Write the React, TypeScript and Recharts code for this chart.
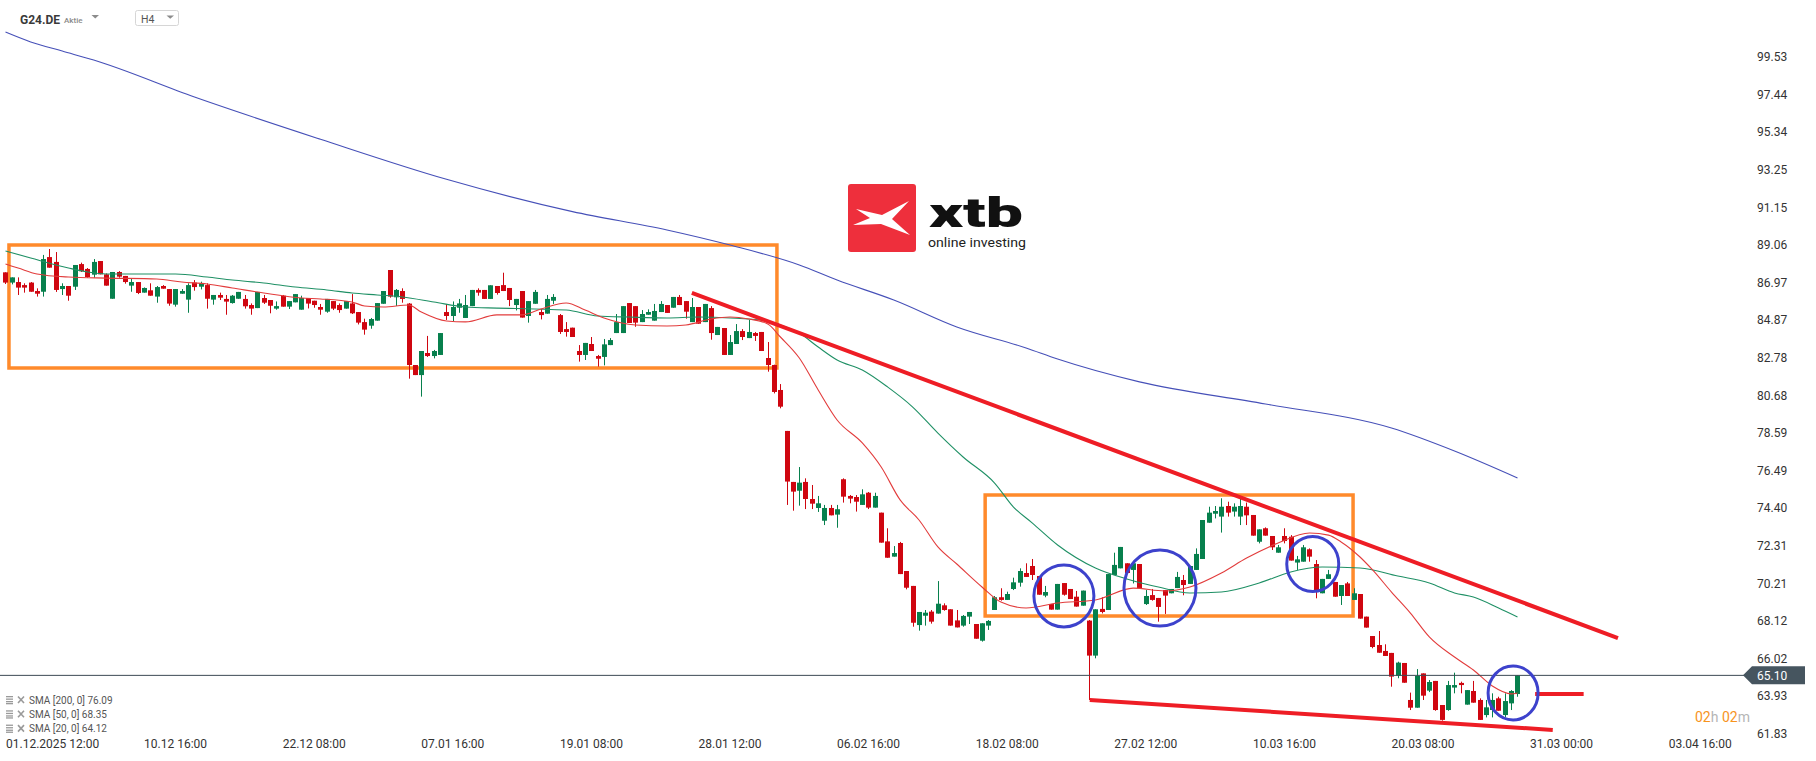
import React from 'react';
import {
  ComposedChart, Bar, Line, XAxis, YAxis, ReferenceLine, ReferenceArea, ReferenceDot,
} from 'recharts';

const W = 1816;
const H = 761;
const RED = '#cf0610';
const GREEN = '#07804d';
const ORANGE = '#ff8a2b';
const CIRCLE = '#3d42cc';
const TREND = '#ee1d25';
const FONT = 'Roboto, "Open Sans", sans-serif';

// ---- candle values (H4) ----
const opens = [
  87.54, 86.97, 87.0, 86.83, 86.97, 86.5, 86.46, 88.39, 88.12, 86.61,
  86.78, 86.74, 88.0, 87.73, 87.41, 88.17, 87.43, 86.07, 87.56, 87.34,
  86.8, 87.0, 86.41, 86.54, 86.19, 86.78, 86.61, 85.74, 86.35, 86.02,
  86.97, 86.74, 86.83, 86.02, 86.28, 86.06, 85.83, 86.07, 86.06, 85.72,
  85.55, 86.11, 86.0, 85.52, 86.24, 85.63, 85.87, 85.46, 86.11, 85.96,
  85.61, 85.35, 85.94, 85.72, 85.52, 85.81, 85.33, 84.77, 84.57, 84.85,
  85.79, 87.67, 86.15, 86.5, 85.8, 82.38, 81.82, 83.05, 82.88, 82.94,
  85.33, 85.11, 85.57, 85.0, 85.66, 86.56, 86.56, 86.06, 86.78, 86.83,
  86.67, 85.72, 86.5, 85.11, 85.79, 85.33, 85.24, 85.96, 85.16, 84.38,
  84.46, 83.16, 82.94, 83.55, 82.88, 82.83, 83.49, 84.16, 84.16, 85.83,
  85.66, 84.77, 85.18, 84.85, 85.33, 85.72, 85.57, 86.17, 85.94, 84.77,
  85.61, 84.77, 85.55, 84.05, 84.44, 82.94, 83.55, 84.27, 83.88, 84.16,
  84.22, 82.77, 82.38, 80.99, 78.71, 75.87, 75.38, 75.87, 74.92, 74.42,
  73.71, 74.42, 74.05, 76.02, 75.09, 75.03, 74.59, 75.27, 74.44, 74.16,
  72.56, 71.71, 72.47, 70.91, 70.08, 67.9, 68.42, 68.65, 68.54, 69.0,
  68.78, 68.16, 67.87, 68.37, 67.96, 67.03, 67.87, 68.74, 69.45, 69.3,
  69.91, 70.26, 70.8, 71.19, 70.63, 69.54, 69.07, 68.76, 70.24, 69.91,
  69.48, 68.98, 68.15, 66.2, 68.8, 68.74, 70.69, 71.06, 71.34, 70.97,
  71.3, 69.07, 69.57, 69.41, 69.85, 69.67, 69.96, 70.41, 70.19, 70.97,
  71.58, 73.6, 74.1, 73.94, 74.53, 74.22, 73.94, 74.49, 74.03, 72.54,
  73.29, 72.86, 71.93, 72.86, 72.82, 71.38, 71.43, 72.12, 71.3, 69.67,
  70.47, 70.3, 69.52, 70.22, 69.3, 69.63, 68.37, 67.29, 66.79, 66.46,
  66.35, 65.08, 65.79, 63.73, 63.3, 65.21, 64.25, 64.79, 63.45, 63.17,
  64.42, 64.68, 63.47, 64.23, 63.73, 62.89, 63.17, 63.82, 62.89, 63.54, 64.06,
];
const highs = [
  87.54, 87.26, 87.26, 86.93, 87.0, 86.65, 88.51, 88.84, 88.67, 86.93,
  86.78, 87.95, 88.08, 87.78, 88.28, 88.17, 87.48, 87.56, 87.61, 87.34,
  87.21, 87.0, 86.7, 86.93, 86.78, 86.83, 86.61, 86.61, 86.61, 86.93,
  87.11, 87.02, 86.93, 86.28, 86.41, 86.28, 86.28, 86.45, 86.28, 85.81,
  86.45, 86.28, 86.0, 85.92, 86.28, 85.94, 86.33, 86.24, 86.11, 85.96,
  85.78, 86.06, 85.94, 85.81, 85.94, 86.33, 85.33, 84.96, 85.0, 85.83,
  86.5, 87.67, 86.61, 86.65, 85.83, 82.38, 83.16, 84.0, 83.22, 84.16,
  85.78, 85.92, 86.06, 86.28, 86.56, 86.65, 86.56, 86.82, 86.78, 87.52,
  86.67, 86.06, 86.5, 85.94, 86.56, 85.5, 86.28, 86.33, 85.22, 84.77,
  84.46, 83.49, 83.61, 83.94, 82.94, 83.83, 83.88, 85.22, 85.66, 85.83,
  85.66, 85.44, 85.48, 85.78, 85.94, 85.72, 86.17, 86.28, 85.94, 86.11,
  85.61, 85.78, 85.66, 84.5, 84.44, 84.05, 84.66, 84.38, 84.89, 84.22,
  84.22, 83.66, 82.4, 81.32, 78.71, 75.87, 76.7, 76.07, 75.7, 75.09,
  74.59, 74.59, 74.59, 76.07, 75.14, 75.14, 75.46, 75.31, 75.27, 74.16,
  73.29, 72.3, 72.53, 70.91, 70.08, 68.63, 68.74, 68.74, 70.35, 69.11,
  68.78, 68.74, 68.46, 68.63, 67.96, 68.0, 68.18, 69.52, 69.95, 69.76,
  70.54, 71.06, 71.34, 71.58, 70.63, 70.08, 69.07, 70.19, 70.24, 69.91,
  69.8, 69.82, 68.18, 68.78, 69.45, 70.74, 71.93, 72.25, 71.34, 71.34,
  71.3, 69.85, 69.91, 69.41, 69.85, 69.91, 70.86, 70.69, 71.19, 72.17,
  73.75, 74.49, 74.53, 74.96, 74.77, 74.68, 74.96, 74.72, 74.03, 73.23,
  73.34, 72.86, 72.36, 73.29, 72.91, 71.75, 72.36, 72.17, 71.52, 70.47,
  70.97, 70.3, 70.13, 70.3, 69.95, 69.63, 68.37, 67.29, 67.57, 66.83,
  66.35, 65.86, 65.79, 64.14, 65.45, 65.21, 64.84, 64.79, 63.45, 64.79,
  65.25, 64.75, 64.28, 64.79, 63.82, 63.73, 64.1, 63.91, 64.1, 64.28, 65.1,
];
const lows = [
  86.89, 86.87, 86.28, 86.41, 86.46, 86.19, 86.19, 87.8, 86.45, 86.28,
  85.96, 86.56, 87.56, 87.24, 87.24, 87.43, 86.8, 86.07, 87.24, 86.91,
  86.46, 86.33, 86.41, 86.24, 85.85, 86.63, 85.68, 85.63, 86.35, 85.29,
  86.52, 86.59, 85.52, 85.74, 86.0, 85.18, 85.8, 86.07, 85.52, 85.18,
  85.55, 85.78, 85.26, 85.46, 85.63, 85.5, 85.87, 85.46, 85.53, 85.57,
  85.18, 85.29, 85.44, 85.29, 85.52, 85.22, 84.64, 84.07, 84.4, 84.85,
  85.79, 86.13, 85.67, 85.85, 81.62, 81.82, 80.62, 82.83, 82.75, 82.94,
  84.89, 84.83, 85.29, 85.0, 85.66, 86.24, 86.06, 86.06, 86.3, 86.5,
  85.66, 85.42, 85.02, 84.74, 85.79, 84.92, 85.24, 85.78, 84.11, 83.96,
  83.94, 82.57, 82.66, 83.16, 82.29, 82.36, 83.49, 84.16, 84.16, 84.72,
  84.51, 84.77, 85.18, 84.85, 85.33, 85.28, 85.57, 85.72, 84.96, 84.77,
  84.68, 84.77, 83.79, 84.05, 82.94, 82.94, 83.55, 83.77, 83.88, 83.72,
  83.16, 82.01, 80.8, 79.97, 74.59, 74.27, 74.55, 74.36, 74.36, 74.2,
  73.47, 74.01, 73.32, 74.72, 74.68, 74.22, 74.59, 74.36, 74.44, 72.49,
  71.65, 71.71, 70.74, 69.89, 67.81, 67.59, 67.87, 67.98, 68.54, 68.7,
  67.87, 67.77, 67.81, 67.96, 67.14, 66.98, 67.63, 68.74, 69.26, 69.3,
  69.85, 70.04, 70.58, 70.41, 69.59, 69.45, 68.76, 68.76, 69.54, 69.35,
  68.93, 68.98, 63.73, 66.05, 68.55, 68.74, 70.69, 71.06, 70.8, 70.22,
  69.96, 69.02, 69.26, 68.09, 68.52, 69.67, 69.96, 69.56, 70.19, 70.97,
  71.58, 73.6, 73.84, 73.05, 73.94, 73.94, 73.47, 73.47, 72.88, 72.45,
  72.88, 72.08, 71.93, 72.45, 71.49, 70.97, 71.43, 71.43, 69.39, 69.67,
  70.47, 69.48, 69.02, 69.52, 69.3, 68.26, 67.76, 66.61, 66.36, 66.18,
  64.47, 64.94, 64.69, 63.17, 63.3, 63.73, 64.17, 63.13, 62.58, 63.13,
  64.1, 64.1, 63.47, 63.58, 62.62, 62.76, 62.76, 63.13, 62.76, 63.17, 63.91,
];
const closes = [
  86.97, 87.26, 86.69, 86.69, 86.46, 86.35, 88.28, 87.8, 86.56, 86.78,
  86.24, 87.95, 87.6, 87.28, 88.12, 87.43, 86.8, 87.56, 87.3, 87.0,
  87.0, 86.39, 86.67, 86.24, 86.72, 86.63, 85.8, 86.61, 86.5, 86.83,
  86.72, 86.93, 86.07, 86.28, 86.13, 85.91, 86.24, 86.45, 85.65, 85.52,
  86.45, 85.85, 85.68, 85.66, 85.63, 85.94, 86.33, 86.11, 85.8, 85.72,
  85.46, 86.06, 85.52, 85.44, 85.94, 85.26, 84.74, 84.35, 84.94, 85.83,
  86.5, 86.19, 86.56, 86.06, 82.38, 81.82, 83.16, 82.88, 83.16, 84.16,
  85.11, 85.61, 85.81, 85.72, 86.56, 86.41, 86.06, 86.82, 86.39, 86.5,
  86.0, 86.06, 85.02, 85.94, 86.45, 85.16, 86.06, 86.17, 84.22, 84.22,
  83.94, 82.94, 83.61, 83.16, 82.73, 83.53, 83.77, 84.77, 85.66, 84.72,
  84.74, 85.22, 85.33, 85.39, 85.78, 85.28, 86.17, 85.72, 85.35, 85.61,
  84.68, 85.78, 84.16, 84.5, 82.94, 83.66, 84.27, 83.94, 84.22, 84.0,
  83.16, 82.38, 80.88, 80.06, 75.89, 75.33, 75.83, 74.92, 74.66, 74.68,
  74.42, 74.01, 74.35, 75.05, 74.94, 74.77, 75.18, 74.44, 75.09, 72.49,
  71.65, 71.91, 70.74, 69.98, 68.03, 68.63, 68.59, 68.09, 69.09, 68.74,
  67.87, 67.77, 68.41, 68.63, 67.14, 68.0, 68.13, 69.45, 69.3, 69.63,
  70.28, 70.91, 70.58, 70.69, 69.59, 69.74, 68.76, 70.19, 69.59, 69.35,
  68.93, 69.82, 66.2, 68.78, 68.63, 70.74, 71.25, 72.25, 70.8, 71.34,
  69.96, 69.52, 69.3, 68.91, 69.54, 69.91, 70.58, 70.13, 71.19, 71.86,
  73.75, 74.16, 74.25, 74.49, 74.16, 74.49, 74.53, 74.01, 72.88, 73.23,
  72.88, 72.23, 72.23, 72.58, 71.49, 71.56, 72.23, 71.71, 69.82, 70.47,
  70.73, 69.48, 70.13, 69.52, 69.67, 68.26, 67.76, 66.68, 66.36, 66.18,
  65.03, 65.81, 64.69, 63.3, 65.07, 63.97, 64.73, 63.17, 62.62, 64.56,
  64.56, 64.56, 64.28, 63.58, 62.62, 63.32, 63.73, 63.13, 63.67, 64.23, 65.1,
];

// ---- moving averages (read at candle indices) ----
const sma200Idx = [0, 4, 9, 14, 30, 50, 70, 90, 105, 115, 126, 132, 141, 151, 162, 167, 180, 200, 220, 230, 240];
const sma200Val = [100.92, 100.37, 99.86, 99.36, 97.3, 94.95, 92.72, 90.92, 89.9, 89.06, 87.95, 87.11, 86.0, 84.5, 83.33, 82.71, 81.44, 80.21, 78.87, 77.59, 76.09];

const sma50Idx = [0, 4, 10, 13, 16, 22, 27, 32, 36, 41, 46, 51, 55, 59, 63, 68, 73, 78, 84, 89, 94, 99, 105, 110, 115, 121, 123, 126, 129, 132, 136, 140, 144, 148, 152, 157, 160, 163, 167, 173, 178, 183, 188, 193, 199, 204, 209, 215, 221, 226, 230, 233, 237, 240];
const sma50Val = [88.73, 88.34, 87.78, 87.56, 87.45, 87.45, 87.45, 87.28, 87.11, 86.95, 86.72, 86.56, 86.39, 86.28, 86.17, 85.89, 85.61, 85.55, 85.5, 85.44, 85.11, 85.05, 85.0, 85.05, 85.0, 84.83, 84.61, 84.16, 83.38, 82.66, 82.1, 81.16, 80.04, 78.59, 77.26, 75.81, 74.47, 73.58, 72.36, 71.08, 70.47, 70.02, 69.69, 69.74, 70.24, 70.86, 71.13, 71.08, 70.63, 70.24, 69.69, 69.46, 68.85, 68.35];

const sma20Idx = [0, 2, 5, 10, 16, 24, 28, 32, 36, 41, 47, 50, 55, 57, 60, 64, 66, 70, 73, 78, 82, 85, 89, 92, 95, 100, 105, 108, 112, 115, 118, 121, 123, 126, 129, 132, 136, 139, 142, 145, 148, 151, 155, 158, 162, 167, 173, 179, 184, 188, 193, 197, 202, 207, 210, 212, 215, 217, 220, 223, 226, 230, 233, 236, 239, 240];
const sma20Val = [88.0, 87.78, 87.45, 87.28, 87.22, 87.17, 87.0, 86.89, 86.67, 86.39, 86.11, 86.06, 85.89, 85.67, 85.61, 85.72, 85.33, 84.83, 84.78, 85.17, 85.17, 85.5, 85.83, 85.44, 85.0, 84.61, 84.55, 84.61, 84.94, 85.05, 84.94, 84.66, 83.94, 82.77, 80.99, 79.32, 78.04, 76.7, 74.87, 73.75, 72.25, 71.3, 70.02, 69.18, 68.85, 69.13, 69.3, 69.96, 69.8, 70.02, 70.8, 71.63, 72.47, 73.03, 72.91, 72.53, 71.69, 70.97, 69.74, 68.57, 67.24, 66.12, 65.4, 64.51, 64.07, 64.12];

// ---- axes ----
const yTicks = [99.53, 97.44, 95.34, 93.25, 91.15, 89.06, 86.97, 84.87, 82.78, 80.68, 78.59, 76.49, 74.4, 72.31, 70.21, 68.12, 66.02, 63.93, 61.83];
const xTickIdx = [5, 27, 49, 71, 93, 115, 137, 159, 181, 203, 225, 247, 269];
const xTickLabels = ['01.12.2025 12:00', '10.12 16:00', '22.12 08:00', '07.01 16:00', '19.01 08:00', '28.01 12:00', '06.02 16:00', '18.02 08:00', '27.02 12:00', '10.03 16:00', '20.03 08:00', '31.03 00:00', '03.04 16:00'];

// ---- annotations ----
const boxes = [
  { x1: 0.55, x2: 122.45, y1: 82.21, y2: 89.06 },
  { x1: 155.5, x2: 213.9, y1: 68.41, y2: 75.14 },
];
const circles = [
  { x: 168.0, y: 69.52, rx: 30, ry: 31 },
  { x: 183.25, y: 69.96, rx: 36, ry: 38 },
  { x: 207.5, y: 71.3, rx: 26, ry: 27.5 },
  { x: 239.3, y: 64.12, rx: 25, ry: 27 },
];
const upperTrend = [{ x: 108.95, y: 86.39 }, { x: 255.95, y: 67.18 }];
const lowerTrend = [{ x: 172.1, y: 63.73 }, { x: 245.6, y: 62.06 }];
const shortLevel = [{ x: 242.8, y: 64.06 }, { x: 250.5, y: 64.06 }];
const smaLegend = [
  { name: 'SMA [200, 0]', value: 76.09 },
  { name: 'SMA [50, 0]', value: 68.35 },
  { name: 'SMA [20, 0]', value: 64.12 },
];

const X_MIN = -5.5 / 6.3;
const X_MAX = (1745 - 5.5) / 6.3;
const Y_MAX = 102.704;
const Y_MIN = 61.501;

const candles = opens.map((o, i) => ({
  i, open: o, high: highs[i], low: lows[i], close: closes[i], range: [lows[i], highs[i]],
}));
const toPts = (idx: number[], val: number[]) => idx.map((i, k) => ({ i, v: val[k] }));
const sma200Data = toPts(sma200Idx, sma200Val);
const sma50Data = toPts(sma50Idx, sma50Val);
const sma20Data = toPts(sma20Idx, sma20Val);
const lastPrice = closes[closes.length - 1];

const CandleShape = (props: any) => {
  const { x, y, width, height, payload } = props;
  if (!payload || x == null || y == null) return null;
  const { open, close, high, low } = payload;
  const top = Math.min(y, y + height);
  const h = Math.abs(height);
  const span = high - low;
  const k = span > 0 ? h / span : 0;
  const py = (v: number) => top + (high - v) * k;
  const cx = Math.floor(x + width / 2);
  const up = close >= open;
  const color = up ? GREEN : RED;
  const bTop = py(Math.max(open, close));
  const bBot = py(Math.min(open, close));
  const bh = Math.max(1, bBot - bTop);
  return (
    <g>
      <rect x={cx} y={top} width={1} height={Math.max(1, h)} fill={color} />
      <rect x={cx - 2} y={bTop} width={5} height={bh} fill={color} />
    </g>
  );
};

const XTick = (props: any) => {
  const { x, payload } = props;
  const idx = xTickIdx.indexOf(payload.value);
  const label = idx >= 0 ? xTickLabels[idx] : '';
  const first = idx === 0;
  return (
    <text x={first ? 6 : x} y={748} textAnchor={first ? 'start' : 'middle'} fontSize={12} fill="#333" fontFamily={FONT}>
      {label}
    </text>
  );
};

const YTick = (props: any) => {
  const { y, payload } = props;
  return (
    <text x={1757} y={y + 4} fontSize={12} fill="#333" fontFamily={FONT}>
      {Number(payload.value).toFixed(2)}
    </text>
  );
};

const PriceTag = (props: any) => {
  const vb = props.viewBox || {};
  const x = (vb.x ?? 0) + (vb.width ?? 0) - 2;
  const y = vb.y ?? 0;
  return (
    <g>
      <path d={`M${x},${y} L${x + 9},${y - 9} L${x + 62},${y - 9} L${x + 62},${y + 9} L${x + 9},${y + 9} Z`} fill="#46555f" />
      <text x={x + 14} y={y + 4.5} fill="#fff" fontSize={12} fontFamily={FONT}>{lastPrice.toFixed(2)}</text>
    </g>
  );
};

const ellipseShape = (c: { rx: number; ry: number }) => (p: any) => (
  <ellipse cx={p.cx} cy={p.cy} rx={c.rx} ry={c.ry} fill="none" stroke={CIRCLE} strokeWidth={3} />
);

const lineCommon = { dataKey: 'v', type: 'monotone' as const, strokeWidth: 1.1, dot: false, activeDot: false, isAnimationActive: false, legendType: 'none' as const };

export default function App() {
  return (
    <div style={{ position: 'absolute', left: 0, top: 0, width: W, height: H, background: '#fff', overflow: 'hidden', fontFamily: FONT }}>
      <ComposedChart width={W} height={H} data={candles} margin={{ top: 0, right: 0, bottom: 0, left: 0 }}>
        <XAxis dataKey="i" type="number" domain={[X_MIN, X_MAX]} allowDataOverflow ticks={xTickIdx} interval={0}
          height={21} axisLine={false} tickLine={false} tick={XTick} />
        <YAxis type="number" orientation="right" width={71} domain={[Y_MIN, Y_MAX]} allowDataOverflow ticks={yTicks}
          interval={0} axisLine={false} tickLine={false} tick={YTick} />
        <Line data={sma200Data} stroke="#4650b8" {...lineCommon} />
        <Line data={sma50Data} stroke="#1f9065" {...lineCommon} />
        <Line data={sma20Data} stroke="#e23c3c" {...lineCommon} />
        <Bar dataKey="range" barSize={5} shape={CandleShape} isAnimationActive={false} />
        <ReferenceLine y={lastPrice} stroke="#3c4a54" strokeWidth={1} label={<PriceTag />} />
        {boxes.map((b, k) => (
          <ReferenceArea key={`b${k}`} x1={b.x1} x2={b.x2} y1={b.y1} y2={b.y2} fill="none" fillOpacity={0}
            stroke={ORANGE} strokeWidth={3.5} ifOverflow="visible" />
        ))}
        <ReferenceLine segment={upperTrend} stroke={TREND} strokeWidth={4} ifOverflow="visible" />
        <ReferenceLine segment={lowerTrend} stroke={TREND} strokeWidth={4} ifOverflow="visible" />
        <ReferenceLine segment={shortLevel} stroke={TREND} strokeWidth={4} ifOverflow="visible" />
        {circles.map((c, k) => (
          <ReferenceDot key={`c${k}`} x={c.x} y={c.y} r={c.rx} fill="none" stroke={CIRCLE} strokeWidth={3}
            shape={ellipseShape(c)} ifOverflow="visible" />
        ))}
      </ComposedChart>

      <svg width={W} height={H} style={{ position: 'absolute', left: 0, top: 0, pointerEvents: 'none' }}>
        {/* header */}
        <text x={20} y={23.5} fontSize={12} fontWeight={700} fill="#3a3a3a" fontFamily={FONT}>G24.DE</text>
        <text x={64} y={22.5} fontSize={8} fontWeight={500} fill="#8a8a8a" fontFamily={FONT}>Aktie</text>
        <path d="M91.5,15 L99,15 L95.25,18.5 Z" fill="#8c8c8c" />
        <rect x={135.5} y={10.5} width={43} height={15} rx={2} fill="#fff" stroke="#d6d6d6" />
        <text x={141} y={22.5} fontSize={10.5} fill="#555" fontFamily={FONT}>H4</text>
        <path d="M166.5,15.5 L174,15.5 L170.25,18.8 Z" fill="#8c8c8c" />

        {/* logo */}
        <rect x={848} y={184} width={68} height={68} rx={3} fill="#ee2f3c" />
        <polygon points="856,209 882,215 909,201 892,219 910,235 881,224 853,225 870,218" fill="#fff" />
        <text x={929} y={226.5} fontSize={40} fontWeight={900} fill="#111" fontFamily={FONT} textLength={94} lengthAdjust="spacingAndGlyphs">xtb</text>
        <text x={928} y={246.5} fontSize={12} fill="#222" fontFamily={FONT} textLength={98} lengthAdjust="spacingAndGlyphs">online investing</text>

        {/* legend */}
        {smaLegend.map((s, k) => {
          const cy = 700 + k * 14.3;
          return (
            <g key={k}>
              <rect x={6} y={cy - 4} width={7} height={1.3} fill="#9a9a9a" />
              <rect x={6} y={cy - 1.5} width={7} height={1.3} fill="#9a9a9a" />
              <rect x={6} y={cy + 1} width={7} height={1.3} fill="#9a9a9a" />
              <rect x={6} y={cy + 3} width={7} height={1.3} fill="#9a9a9a" />
              <path d={`M18,${cy - 3.5} L24,${cy + 3} M24,${cy - 3.5} L18,${cy + 3}`} stroke="#9a9a9a" strokeWidth={1.6} />
              <text x={29} y={cy + 3.5} fontSize={10} fill="#555" fontFamily={FONT}>{`${s.name} ${s.value.toFixed(2)}`}</text>
            </g>
          );
        })}

        {/* countdown */}
        <text x={1695} y={722} fontSize={14} fontFamily={FONT}>
          <tspan fill="#f7941d">02</tspan>
          <tspan fill="#b5b5b5">h </tspan>
          <tspan fill="#f7941d">02</tspan>
          <tspan fill="#b5b5b5">m</tspan>
        </text>
      </svg>
    </div>
  );
}
